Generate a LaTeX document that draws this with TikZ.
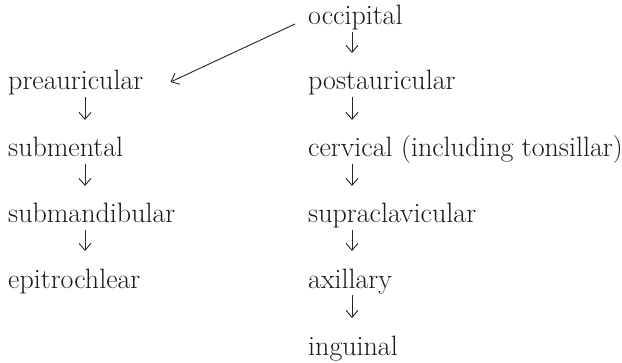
\documentclass[tikz,border=0pt]{standalone}
\usetikzlibrary{arrows.meta}
\begin{document}
\begin{tikzpicture}[x=1pt,y=1pt,
  lbl/.style={anchor=base west,inner sep=0pt,font=\fontsize{28}{32}\selectfont,text=black!90},
  arr/.style={-{Straight Barb[length=7pt,width=12pt]},line width=0.9pt,black!85}]
\useasboundingbox (0,0) rectangle (622,362);
% left column
\node[lbl] (pre)  at (8,272) {preauricular};
\node[lbl] (smt)  at (8,205) {submental};
\node[lbl] (smd)  at (8,139) {submandibular};
\node[lbl] (epi)  at (8,74)  {epitrochlear};
% right column
\node[lbl] (occ)  at (308,337) {occipital};
\node[lbl] (post) at (308,272) {postauricular};
\node[lbl] (cerv) at (308,205) {cervical (including tonsillar)};
\node[lbl] (supr) at (308,139) {supraclavicular};
\node[lbl] (axi)  at (308,74)  {axillary};
\node[lbl] (ing)  at (308,7)   {inguinal};
% left arrows
\foreach \a/\b in {pre/smt,smt/smd,smd/epi}
  \draw[arr] ([xshift=77pt,yshift=-7pt]\a.base west) -- ([xshift=77pt,yshift=37pt]\b.base west);
% right arrows
\foreach \a/\b in {occ/post,post/cerv,cerv/supr,supr/axi,axi/ing}
  \draw[arr] ([xshift=44pt,yshift=-7pt]\a.base west) -- ([xshift=44pt,yshift=37pt]\b.base west);
% diagonal
\draw[arr] ([xshift=-13pt,yshift=1pt]occ.base west) -- ([xshift=27pt,yshift=8pt]pre.base east);
\end{tikzpicture}
\end{document}
